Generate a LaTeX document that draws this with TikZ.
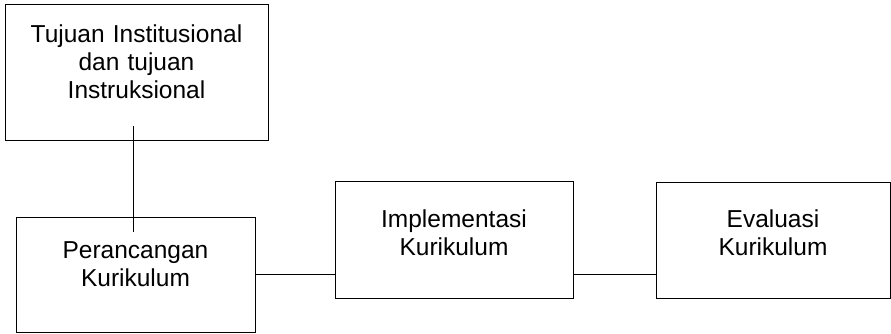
\documentclass[tikz,border=0pt]{standalone}
\usepackage{fontspec}
\setmainfont{Liberation Sans}
\usepackage{tikz}
\usetikzlibrary{positioning,calc}
\tikzset{
  kotak/.style={draw,line width=0.8pt,inner sep=0pt,align=center,
                font=\fontsize{24.5pt}{28.3pt}\selectfont},
  garis/.style={line width=1pt}
}

\begin{document}
\begin{tikzpicture}[x=1pt,y=-1pt]
  \useasboundingbox (0,0) rectangle (891,333);
  % Boxes
  \node[kotak,text width=263pt,text height=38pt,text depth=98pt] (tujuan) at (136.5,72)
    {Tujuan Institusional\\dan tujuan\\Instruksional};
  \node[kotak,text width=239pt,text height=41pt,text depth=74pt] (rancang) at (135.5,274.5)
    {Perancangan\\Kurikulum};
  \node[kotak,text width=238pt,text height=46pt,text depth=71pt] (implementasi) at (454,239.5)
    {Implementasi\\Kurikulum};
  \node[kotak,text width=234pt,text height=45pt,text depth=71pt] (evaluasi) at (773,240)
    {Evaluasi\\Kurikulum};
  % Connectors
  \draw[garis] ([xshift=-3.5pt,yshift=14pt]tujuan.south) -- ([xshift=-2.5pt,yshift=-15pt]rancang.north);
  \draw[garis] (rancang.east) -- (rancang.east -| implementasi.west);
  \draw[garis] (implementasi.east |- rancang.east) -- (evaluasi.west |- rancang.east);
\end{tikzpicture}
\end{document}
